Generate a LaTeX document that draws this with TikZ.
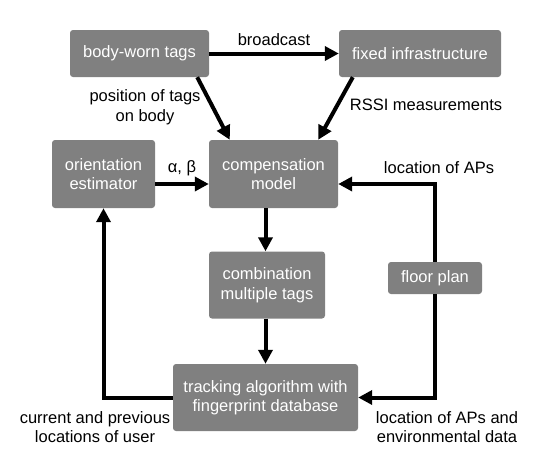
\documentclass[tikz,border=0pt]{standalone}
\usepackage{fontspec}
\setmainfont{Liberation Sans}
\usepackage{tikz}
\usetikzlibrary{
    positioning,
    arrows.meta,
    calc
}
\definecolor{boxGray}{RGB}{128, 128, 128}

\begin{document}
\begin{tikzpicture}[x=1pt, y=-1pt, >={Triangle[length=14pt, width=14pt]},
    box/.style={fill=boxGray, text=white, rounded corners=3pt, align=center, inner sep=0pt, font=\fontsize{16.5}{19.5}\selectfont},
    flow/.style={->, line width=4pt},
    lbl/.style={align=center, font=\fontsize{16.5}{19.5}\selectfont}]
    \useasboundingbox (0,0) rectangle (553,455);

    % Blocks
    \node[box, minimum width=139pt, minimum height=47pt] (tags) at (139.5,53.5) {body-worn tags};
    \node[box, minimum width=162pt, minimum height=47pt] (infra) at (420,53.5) {fixed infrastructure};
    \node[box, minimum width=129pt, minimum height=68pt] (comp) at (273.5,174) {compensation\\model};
    \node[box, minimum width=103pt, minimum height=68pt] (orient) at (103.5,174) {orientation\\estimator};
    \node[box, minimum width=116pt, minimum height=67pt] (comb) at (267,285) {combination\\multiple tags};
    \node[box, minimum width=185pt, minimum height=67pt] (track) at (265.5,397.5) {tracking algorithm with\\fingerprint database};
    \node[box, minimum width=94pt, minimum height=32pt] (floor) at (435,278) {floor plan};

    % Broadcast
    \draw[flow] (tags.east) -- (infra.west) node[midway, lbl, above=3pt] {broadcast};

    % Inputs of compensation model
    \draw[flow] ([xshift=-12pt]tags.south east) -- ([xshift=21pt]comp.north west);
    \node[lbl] (posLbl) at (145,107) {position of tags\\on body};
    \draw[flow] ([xshift=14pt]infra.south west) -- ([xshift=-20pt]comp.north east);
    \node[lbl] (rssiLbl) at (426,105) {RSSI measurements};
    \draw[flow] ([yshift=-10pt]orient.east) -- ([yshift=-10pt]comp.west) node[midway, lbl, above=3pt] {α, β};

    % Floor plan
    \draw[flow] (floor.north) |- ([yshift=-10pt]comp.east);
    \node[lbl] (apLbl) at (439,168) {location of APs};
    \draw[flow] (floor.south) |- (track.east);
    \node[lbl] (envLbl) at (447,427) {location of APs and\\environmental data};

    % Main chain
    \draw[flow] (comp.south -| track.north) -- (comb.north -| track.north);
    \draw[flow] (comb.south -| track.north) -- (track.north);

    % Feedback
    \draw[flow] (track.west) -| (orient.south);
    \node[lbl] (userLbl) at (95,427) {current and previous\\locations of user};
\end{tikzpicture}
\end{document}
